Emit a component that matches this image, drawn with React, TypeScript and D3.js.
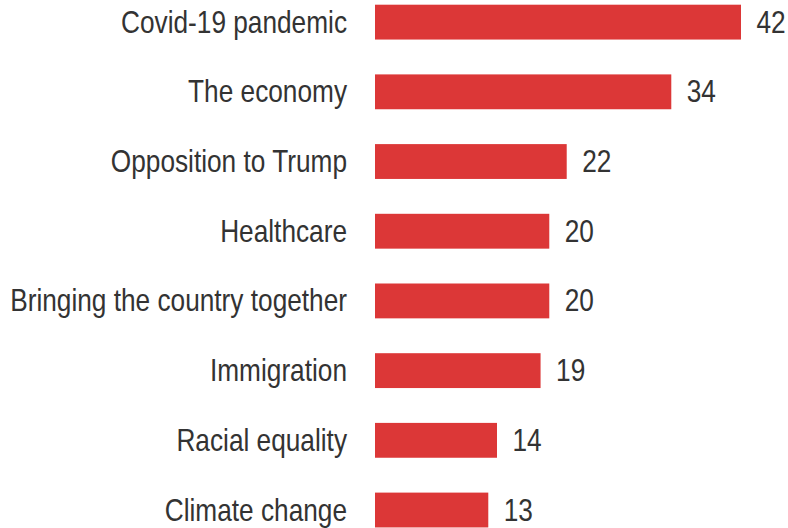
import React from "react";
import * as d3 from "d3";

const categories = [
  "Covid-19 pandemic",
  "The economy",
  "Opposition to Trump",
  "Healthcare",
  "Bringing the country together",
  "Immigration",
  "Racial equality",
  "Climate change",
];
const values = [42, 34, 22, 20, 20, 19, 14, 13];

const W = 788;
const H = 528;
const FONT = "'Liberation Sans', Arial, sans-serif";
const NARROW = 0.82;

export default function App() {
  const x = d3.scaleLinear().domain([0, 42]).range([375, 741]);
  const step = 69.7;
  const y = d3
    .scaleBand<string>()
    .domain(categories)
    .range([4.7, 4.7 + step * 7.5])
    .paddingInner(0.5)
    .paddingOuter(0);
  const bw = y.bandwidth();

  return (
    <svg
      width={W}
      height={H}
      style={{ position: "absolute", left: 0, top: 0, background: "#fff" }}
      fontFamily={FONT}
    >
      {categories.map((c, i) => {
        const y0 = y(c) as number;
        const cy = y0 + bw / 2;
        return (
          <g key={c}>
            <rect x={x(0)} y={y0} width={x(values[i]) - x(0)} height={bw} fill="#dc3737" />
            <text
              transform={`translate(347,${cy + 10.5}) scale(${NARROW},1)`}
              textAnchor="end"
              fontSize={32}
              fill="#333"
            >
              {c}
            </text>
            <text
              transform={`translate(${x(values[i]) + 15.5},${cy + 10.5}) scale(${NARROW},1)`}
              textAnchor="start"
              fontSize={32}
              fill="#333"
            >
              {values[i]}
            </text>
          </g>
        );
      })}
    </svg>
  );
}
